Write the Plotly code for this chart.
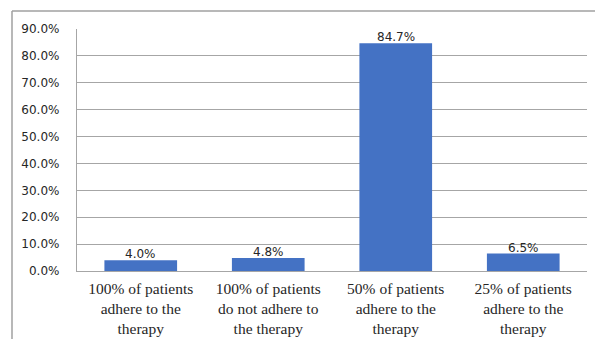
import plotly.graph_objects as go

categories = [
    "100% of patients<br>adhere to the<br>therapy",
    "100% of patients<br>do not adhere to<br>the therapy",
    "50% of patients<br>adhere to the<br>therapy",
    "25% of patients<br>adhere to the<br>therapy",
]
values = [4.0, 4.8, 84.7, 6.5]
y_ticks = [0, 10, 20, 30, 40, 50, 60, 70, 80, 90]

W, H = 595, 339
L, R, T, B = 77, 8, 29, 68
pw, ph = W - L - R, H - T - B

SANS = "DejaVu Sans"
SERIF = "Liberation Serif"

fig = go.Figure(go.Bar(
    x=categories, y=values,
    marker=dict(color="#4472C4", line=dict(width=0)),
    hoverinfo="x+y",
))

def px_x(x):
    return (x - L) / pw

def px_y(y):
    return (H - B - y) / ph

annotations = [
    dict(x=c, y=v, xref="x", yref="y", text=f"{v:.1f}%", showarrow=False,
         yanchor="bottom", yshift=-3,
         font=dict(family=SANS, size=12, color="#262626"))
    for c, v in zip(categories, values)
]

fig.update_layout(
    width=W, height=H,
    margin=dict(l=L, r=R, t=T, b=B, autoexpand=False),
    paper_bgcolor="white", plot_bgcolor="white",
    bargap=0.43, showlegend=False,
    xaxis=dict(
        showline=True, linecolor="#a6a6a6", linewidth=1.3, automargin=False,
        showgrid=False, ticks="", ticklabelstandoff=3,
        tickfont=dict(family=SERIF, size=15.5, color="#262626"),
    ),
    yaxis=dict(
        range=[0, 90], tickvals=y_ticks, automargin=False,
        ticktext=[f"{v:.1f}%" for v in y_ticks],
        showline=True, linecolor="#a6a6a6", linewidth=1.3,
        showgrid=True, gridcolor="#a6a6a6", gridwidth=1.3,
        zeroline=False, ticks="", ticklabelstandoff=14,
        tickfont=dict(family=SANS, size=12, color="#262626"),
    ),
    annotations=annotations,
    shapes=[
        dict(type="line", xref="paper", yref="paper",
             x0=px_x(12), x1=px_x(W + 2), y0=px_y(11), y1=px_y(11),
             line=dict(color="#a0a0a0", width=1.5)),
        dict(type="line", xref="paper", yref="paper",
             x0=px_x(12), x1=px_x(12), y0=px_y(11), y1=px_y(H + 2),
             line=dict(color="#a0a0a0", width=1.5)),
    ],
)

fig.write_html("out.html")
